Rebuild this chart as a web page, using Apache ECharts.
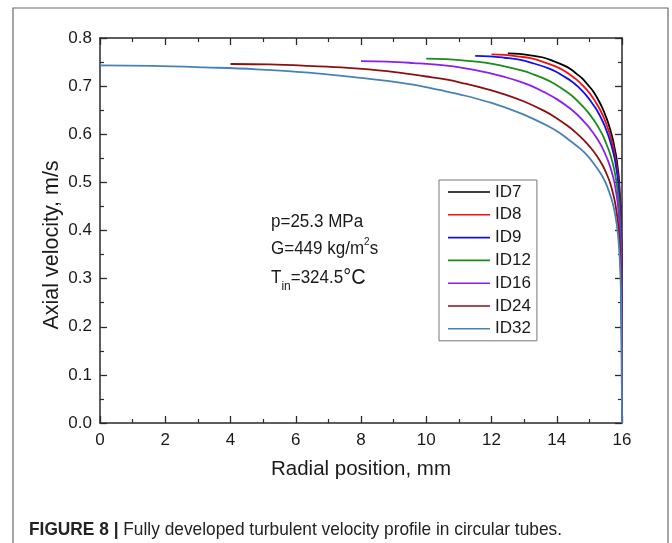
<!DOCTYPE html>
<html>
<head>
<meta charset="utf-8">
<script src="https://cdn.jsdelivr.net/npm/echarts@6/dist/echarts.min.js"></script>
<style>
html,body{margin:0;padding:0;background:#fff;}
#c{width:672px;height:543px;}
</style>
</head>
<body>
<div id="c"></div>
<script>
// ---- data ----
var names = ['ID7','ID8','ID9','ID12','ID16','ID24','ID32'];
var colors = ['#000000','#f01010','#1010f0','#1a8c1a','#8a1ff0','#8b1010','#4682b8'];

var xID7  = [12.5,12.85,13.2,13.55,13.9,14.25,14.43,14.6,14.78,14.95,15.13,15.3,15.41,15.51,15.58,15.65,15.72,15.77,15.83,15.86,15.9,15.93,15.95,15.965,15.979,15.99,15.997,16];
var yID7  = [0.768,0.767,0.764,0.760,0.752,0.742,0.735,0.726,0.716,0.703,0.688,0.668,0.653,0.636,0.623,0.607,0.589,0.572,0.551,0.535,0.512,0.481,0.458,0.426,0.383,0.321,0.205,0];
var xID8  = [12,12.4,12.8,13.2,13.6,14,14.2,14.4,14.6,14.8,15,15.2,15.32,15.44,15.52,15.6,15.68,15.74,15.8,15.84,15.88,15.92,15.94,15.96,15.976,15.988,15.996,16];
var yID8  = [0.766,0.765,0.762,0.758,0.750,0.740,0.733,0.724,0.714,0.701,0.686,0.666,0.652,0.635,0.621,0.606,0.587,0.571,0.550,0.533,0.511,0.480,0.457,0.425,0.382,0.320,0.205,0];
var xID9  = [11.5,11.95,12.4,12.85,13.3,13.75,13.98,14.2,14.43,14.65,14.88,15.1,15.24,15.37,15.46,15.55,15.64,15.71,15.78,15.82,15.87,15.91,15.93,15.955,15.973,15.987,15.996,16];
var yID9  = [0.763,0.762,0.759,0.755,0.747,0.737,0.730,0.721,0.711,0.699,0.683,0.663,0.649,0.632,0.619,0.603,0.585,0.568,0.548,0.531,0.509,0.478,0.456,0.423,0.380,0.319,0.204,0];
var xID12 = [10,10.6,11.2,11.8,12.4,13,13.3,13.6,13.9,14.2,14.5,14.8,14.98,15.16,15.28,15.4,15.52,15.61,15.7,15.76,15.82,15.88,15.91,15.94,15.964,15.982,15.994,16];
var yID12 = [0.757,0.756,0.753,0.749,0.741,0.731,0.724,0.716,0.706,0.693,0.678,0.658,0.644,0.627,0.614,0.599,0.580,0.564,0.544,0.527,0.505,0.474,0.452,0.420,0.377,0.316,0.202,0];
var xID16 = [8,8.8,9.6,10.4,11.2,12,12.4,12.8,13.2,13.6,14,14.4,14.64,14.88,15.04,15.2,15.36,15.48,15.6,15.68,15.76,15.84,15.88,15.92,15.952,15.976,15.992,16];
var yID16 = [0.752,0.751,0.748,0.744,0.737,0.726,0.719,0.711,0.701,0.688,0.673,0.654,0.640,0.623,0.610,0.595,0.577,0.560,0.540,0.523,0.502,0.471,0.449,0.417,0.375,0.314,0.201,0];
var xID24 = [4,5.2,6.4,7.6,8.8,10,10.6,11.2,11.8,12.4,13,13.6,13.96,14.32,14.56,14.8,15.04,15.22,15.4,15.52,15.64,15.76,15.82,15.88,15.928,15.964,15.988,16];
var yID24 = [0.746,0.745,0.742,0.738,0.731,0.720,0.714,0.705,0.695,0.683,0.668,0.649,0.635,0.618,0.605,0.590,0.572,0.556,0.536,0.519,0.498,0.467,0.445,0.414,0.372,0.311,0.200,0];
var xID32 = [0,1.6,3.2,4.8,6.4,8,8.8,9.6,10.4,11.2,12,12.8,13.28,13.76,14.08,14.4,14.72,14.96,15.2,15.36,15.52,15.68,15.76,15.84,15.904,15.952,15.984,16];
var yID32 = [0.743,0.742,0.739,0.735,0.728,0.717,0.711,0.703,0.692,0.680,0.665,0.646,0.632,0.616,0.603,0.587,0.570,0.554,0.533,0.517,0.496,0.465,0.444,0.412,0.370,0.310,0.199,0];

var xs = [xID7,xID8,xID9,xID12,xID16,xID24,xID32];
var ys = [yID7,yID8,yID9,yID12,yID16,yID24,yID32];

var xTicks = [0,2,4,6,8,10,12,14,16];
var yTicks = [0.0,0.1,0.2,0.3,0.4,0.5,0.6,0.7,0.8];

var xTitle = 'Radial position, mm';
var yTitle = 'Axial velocity, m/s';
var capBold = 'FIGURE 8 | ';
var caption = 'Fully developed turbulent velocity profile in circular tubes.';

// ---- chart ----
var chart = echarts.init(document.getElementById('c'), null, {renderer:'canvas'});
var FONT = '"Liberation Sans", Arial, sans-serif';
var axColor = '#2a2a2a';
var txtColor = '#1a1a1a';

function pairs(a,b){ var r=[]; for(var i=0;i<a.length;i++) r.push([a[i],b[i]]); return r; }

var series = names.map(function(n,i){
  return {
    name:n, type:'line', data:pairs(xs[i],ys[i]), symbol:'none', showSymbol:false,
    smooth:0.4,
    lineStyle:{color:colors[i], width:1.8}, itemStyle:{color:colors[i]},
    xAxisIndex:0, yAxisIndex:0, animation:false, z:2+i
  };
});

function xAx(pos, labels){
  return {
    type:'value', position:pos, min:xTicks[0], max:xTicks[xTicks.length-1], interval:2,
    axisLine:{show:true, onZero:false, lineStyle:{color:axColor, width:1.5}},
    axisTick:{show:true, inside:true, length:7, lineStyle:{color:axColor, width:1.3}},
    minorTick:{show:true, splitNumber:2, length:4, lineStyle:{color:axColor, width:1.2}},
    splitLine:{show:false},
    axisLabel:{show:labels, color:txtColor, fontSize:17, fontFamily:FONT, margin:9},
    name: labels ? xTitle : '', nameLocation:'middle', nameGap:36,
    nameTextStyle:{color:txtColor, fontSize:20.5, fontFamily:FONT}
  };
}
function yAx(pos, labels){
  return {
    type:'value', position:pos, min:yTicks[0], max:yTicks[yTicks.length-1], interval:0.1,
    axisLine:{show:true, onZero:false, lineStyle:{color:axColor, width:1.5}},
    axisTick:{show:true, inside:true, length:7, lineStyle:{color:axColor, width:1.3}},
    minorTick:{show:true, splitNumber:2, length:4, lineStyle:{color:axColor, width:1.2}},
    splitLine:{show:false},
    axisLabel:{show:labels, color:txtColor, fontSize:17, fontFamily:FONT, margin:8,
      formatter:function(v){return v.toFixed(1);}},
    name:''
  };
}

// caption: fit to the measured width in the reference
var ctx = document.createElement('canvas').getContext('2d');
ctx.font = 'bold 19px "Liberation Sans", Arial, sans-serif';
var wB = ctx.measureText(capBold).width;
ctx.font = '19px "Liberation Sans", Arial, sans-serif';
var wR = ctx.measureText(caption).width;
var capScale = 533 / (wB + wR);

var option = {
  backgroundColor:'#ffffff',
  animation:false,
  grid:{left:100, right:50, top:38, bottom:120, containLabel:false},
  xAxis:[xAx('bottom',true), xAx('top',false)],
  yAxis:[yAx('left',true), yAx('right',false)],
  legend:{
    orient:'vertical', left:439, top:180, data:names,
    itemWidth:42, itemHeight:14, itemGap:4.8,
    padding:[3,6,3,9], borderColor:'#777', borderWidth:1, backgroundColor:'#fff',
    textStyle:{fontSize:17, fontFamily:FONT, color:txtColor, lineHeight:18},
    icon:'path://M0,7 L42,7 L42,8.6 L0,8.6 Z'
  },
  series:series,
  graphic:[
    {type:'rect', shape:{x:13, y:8, width:655, height:560}, style:{fill:'none', stroke:'#6a6a6a', lineWidth:1.2}, silent:true, z:0},
    {type:'text', x:52, y:245, rotation:Math.PI/2, style:{text:yTitle, font:'21.5px '+FONT, fill:txtColor, align:'center', verticalAlign:'middle'}},
    {type:'text', x:271, y:222, scaleY:1.1, style:{text:'p=25.3 MPa', font:'17px '+FONT, fill:txtColor, verticalAlign:'middle'}},
    {type:'text', x:271, y:249, scaleY:1.1, style:{
      text:'{a|G=449 kg/m}{s|2}{a|s}', verticalAlign:'middle',
      rich:{a:{fontSize:17, fontFamily:FONT, lineHeight:22, fill:txtColor, verticalAlign:'middle'},
            s:{fontSize:10, fontFamily:FONT, lineHeight:14, fill:txtColor, verticalAlign:'top'}}}},
    {type:'text', x:271, y:278, scaleY:1.1, style:{
      text:'{a|T}{b|in}{a|=324.5}{c|°C}', verticalAlign:'middle',
      rich:{a:{fontSize:17, fontFamily:FONT, lineHeight:28, fill:txtColor, verticalAlign:'middle'},
            b:{fontSize:12, fontFamily:FONT, lineHeight:12, fill:txtColor, verticalAlign:'bottom'},
            c:{fontSize:20, fontFamily:FONT, lineHeight:28, fill:txtColor, verticalAlign:'middle'}}}},
    {type:'text', x:29, y:530, scaleX:capScale, style:{
      text:'{b|'+capBold+'}{r|'+caption+'}', verticalAlign:'middle',
      rich:{b:{fontSize:19, fontWeight:'bold', fontFamily:FONT, fill:'#222'},
            r:{fontSize:19, fontFamily:FONT, fill:'#222'}}}}
  ]
};
chart.setOption(option);
</script>
</body>
</html>
